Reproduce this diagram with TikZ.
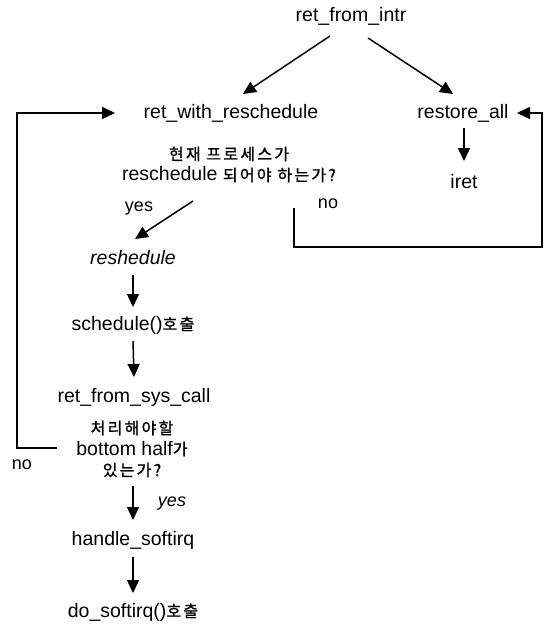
\documentclass[tikz,border=0pt]{standalone}
\usepackage{fontspec}
\setmainfont{Liberation Sans}
\newfontfamily\krfont{Noto Sans CJK KR}[LetterSpace=14,FakeBold=1.2]
\newcommand{\ko}[1]{{\krfont\fontsize{16}{21}\selectfont #1}}
\usetikzlibrary{arrows.meta}
\begin{document}
\begin{tikzpicture}[x=1pt,y=-1pt,
  every node/.style={inner sep=1pt, font=\fontsize{19.5}{21}\selectfont},
  lbl/.style={font=\fontsize{18}{21}\selectfont},
  arr/.style={-{Triangle[length=13pt,width=12pt]}, line width=1.5pt},
  ln/.style={line width=1.5pt}]
\useasboundingbox (0,0) rectangle (544,624);

\node (intr) at (351,16) {ret\_from\_intr};
\node (rwr) at (231,113) {ret\_with\_reschedule};
\node (rall) at (463,113) {restore\_all};
\node (iret) at (464,182) {iret};
\node[align=center] (q1) at (229,164.5) {\ko{현재 프로세스가}\\reschedule \ko{되어야 하는가?}};
\node (resh) at (133,258) {\itshape reshedule};
\node (sched) at (133,325) {schedule()\ko{호출}};
\node (rfsc) at (134,397) {ret\_from\_sys\_call};
\node[align=center] (q2) at (132,449) {\ko{처리해야할}\\bottom half\ko{가}\\\ko{있는가?}};
\node (hs) at (133,540) {handle\_softirq};
\node (do) at (133,612) {do\_softirq()\ko{호출}};

\node[lbl] (yes1) at (139,209) {yes};
\node[lbl] (no1) at (328,204) {no};
\node[lbl] (no2) at (22,465) {no};
\node[lbl] (yes2) at (172,504) {\itshape yes};

\coordinate (rc) at (542,247);

\draw[arr] ([shift={(-21,20)}]intr.center) -- ([shift={(12,-19)}]rwr.center);
\draw[arr] ([shift={(17,22)}]intr.center) -- ([shift={(-10,-19)}]rall.center);
\draw[arr] ([shift={(1,15)}]rall.center) -- ([shift={(0,-21)}]iret.center);
\draw[arr] ([shift={(-36,36.5)}]q1.center) -- ([shift={(2,-19)}]resh.center);
\draw[arr] ([shift={(0,17)}]resh.center) -- ([shift={(0,-18)}]sched.center);
\draw[arr] ([shift={(0,16)}]sched.center) -- ([shift={(0,-20)}]rfsc.center);
\draw[arr] ([shift={(1,37)}]q2.center) -- ([shift={(0,-20)}]hs.center);
\draw[arr] ([shift={(0,17)}]hs.center) -- ([shift={(0,-19)}]do.center);

\draw[arr] ([shift={(-75,-1)}]q2.center) -| ([shift={(-214,0)}]rwr.center) -- ([shift={(-116,0)}]rwr.center);
\draw[arr] ([shift={(65,43.5)}]q1.center) |- (rc) |- ([shift={(54,0)}]rall.center);
\end{tikzpicture}
\end{document}
